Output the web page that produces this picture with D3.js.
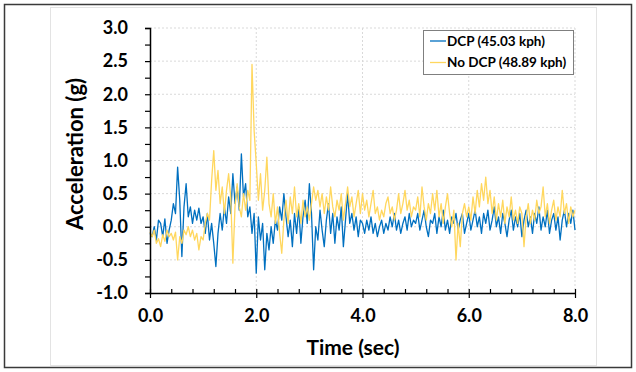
<!DOCTYPE html>
<html>
<head>
<meta charset="utf-8">
<script src="https://cdn.jsdelivr.net/npm/d3@7"></script>
<style>
  body { margin: 0; background: #fff; }
  text { font-family: Lato, "Open Sans", sans-serif; }
</style>
</head>
<body>
<div id="chart"></div>
<script>
// samples every 0.04 sec, from 0.0 to 8.0
const t0 = 0;
const dt = 0.04;

const seriesNames = ["DCP (45.03 kph)", "No DCP (48.89 kph)"];

const dcp = [
  -0.10, -0.15, 0.00, -0.20, 0.10, 0.05, -0.15, 0.12, -0.25, -0.05,
  0.10, 0.35, 0.20, 0.90, 0.40, -0.45, 0.30, 0.65, 0.15, 0.30,
  0.05, 0.25, 0.10, 0.28, 0.05,
  0.15, -0.10, 0.20, -0.20, 0.05, -0.25, -0.60, -0.10, 0.20, -0.05,
  0.30, 0.05, 0.45, 0.20, 0.80, 0.35, 0.60, 0.25, 1.10, 0.45,
  0.65, 0.15, 0.30, -0.10, 0.20,
  -0.70, 0.15, -0.20, 0.05, -0.65, -0.10, -0.35, 0.00, -0.25, 0.10,
  -0.05, 0.30, 0.10, 0.50, 0.15, -0.15, 0.10, -0.30, 0.20, -0.10,
  0.30, -0.25, 0.15, 0.40, 0.05,
  0.65, 0.20, -0.65, 0.00, -0.20, 0.25, -0.05, -0.30, 0.10, 0.35,
  -0.10, 0.20, -0.25, 0.15, -0.05, 0.30, -0.30, 0.10, 0.50, 0.05,
  0.20, -0.05, 0.15, -0.15, 0.10,
  0.05, -0.10, 0.10, -0.05, 0.15, -0.10, 0.05, -0.15, 0.00, 0.10,
  -0.10, 0.05, -0.05, 0.15, 0.00, 0.20, -0.05, 0.10, -0.10, 0.05,
  0.15, -0.05, 0.20, 0.00, 0.10,
  0.05, 0.20, -0.05, 0.10, 0.25, 0.00, -0.15, 0.10, 0.05, 0.20,
  -0.10, 0.15, 0.00, 0.25, -0.05, 0.10, -0.10, 0.15, 0.05, 0.20,
  -0.05, 0.10, 0.20, -0.10, 0.05,
  0.20, -0.05, 0.10, 0.25, 0.00, 0.15, -0.10, 0.20, 0.05, 0.25,
  -0.05, 0.10, 0.30, 0.00, 0.15, -0.10, 0.20, 0.05, -0.15, 0.10,
  0.25, -0.05, 0.15, 0.00, 0.20,
  -0.15, 0.10, 0.25, 0.00, 0.15, -0.10, 0.20, 0.05, 0.30, -0.05,
  0.15, 0.00, 0.25, -0.10, 0.10, 0.20, -0.05, 0.15, -0.20, 0.10,
  0.25, 0.00, 0.20, 0.05, 0.25, -0.05
];

const noDcp = [
  -0.08, -0.15, -0.05, -0.25, -0.18, -0.30, -0.12, -0.22, -0.05, -0.15,
  -0.10, -0.20, -0.08, -0.50, -0.15, -0.25, -0.05, -0.12, 0.00, -0.15,
  -0.05, -0.20, -0.10, -0.35, -0.15,
  -0.20, 0.05, 0.20, 0.10, 0.70, 1.15, 0.55, 0.85, 0.35, 0.60,
  0.20, 0.55, 0.80, 0.45, -0.55, 0.30, 0.65, 0.30, 0.15, 0.50,
  0.25, 0.55, 0.40, 2.45, 1.45,
  0.95, 0.40, 0.80, 0.25, 0.55, 1.05, 0.35, 0.15, 0.50, 0.05,
  0.30, -0.10, -0.40, 0.10, 0.40, 0.05, 0.45, 0.20, 0.60, 0.15,
  0.35, 0.05, 0.40, 0.15, 0.30,
  0.10, 0.35, 0.60, 0.40, 0.55, 0.30, 0.50, 0.20, 0.45, 0.25,
  0.60, 0.30, 0.15, 0.40, 0.25, 0.50, 0.10, 0.35, 0.60, 0.30,
  0.45, 0.15, 0.35, 0.55, 0.20,
  0.50, 0.25, 0.40, 0.15, 0.35, 0.55, 0.20, 0.30, 0.10, 0.25,
  0.15, 0.35, 0.45, 0.20, 0.30, 0.10, 0.25, 0.50, 0.20, 0.35,
  0.55, 0.25, 0.40, 0.15, 0.30,
  0.25, 0.45, 0.15, 0.60, 0.30, 0.10, 0.35, 0.20, 0.50, 0.25,
  0.55, 0.15, 0.35, 0.05, 0.30, 0.50, 0.20, 0.00, 0.25, -0.50,
  0.05, -0.30, 0.20, 0.35, 0.15,
  0.30, 0.10, 0.45, 0.20, 0.55, 0.30, 0.65, 0.40, 0.75, 0.35,
  0.55, 0.20, 0.45, 0.10, 0.35, 0.15, 0.40, 0.05, 0.30, 0.15,
  0.45, 0.10, 0.25, 0.05, 0.30,
  0.20, -0.30, 0.15, 0.35, 0.05, 0.25, 0.10, 0.40, 0.20, 0.30,
  0.60, 0.15, 0.35, 0.05, 0.25, 0.40, 0.10, 0.30, 0.15, 0.55,
  0.20, 0.35, 0.05, 0.30, 0.15, 0.25
];

const colors = ["#0070C0", "#FFD75E"];

const yTicks = [-1.0, -0.5, 0.0, 0.5, 1.0, 1.5, 2.0, 2.5, 3.0];
const xTicks = [0.0, 2.0, 4.0, 6.0, 8.0];

const W = 636, H = 372;
const margin = {top: 28, right: 61, bottom: 79, left: 150};
const width = W - margin.left - margin.right;
const height = H - margin.top - margin.bottom;

const svg = d3.select("#chart").append("svg")
  .attr("width", W)
  .attr("height", H);

// outer frame and faint chart area
svg.append("rect")
  .attr("x", 50.5).attr("y", 7.5)
  .attr("width", 546).attr("height", 358)
  .attr("fill", "none").attr("stroke", "#e3e3e3");
svg.append("rect")
  .attr("x", 4.5).attr("y", 4.5)
  .attr("width", 627).attr("height", 363)
  .attr("fill", "none").attr("stroke", "#3a3a3a").attr("stroke-width", 1.5);

const g = svg.append("g")
  .attr("transform", "translate(" + margin.left + "," + margin.top + ")");

let x = d3.scaleLinear().domain([0, 8]).range([0, width]);
let y = d3.scaleLinear().domain([-1, 3]).range([height, 0]);

// gridlines
g.append("g").selectAll("line").data(yTicks.filter(d => d > -1))
  .enter().append("line")
    .attr("x1", 0).attr("x2", width)
    .attr("y1", d => y(d)).attr("y2", d => y(d))
    .attr("stroke", "#d9d9d9").attr("stroke-dasharray", "2,2");
g.append("g").selectAll("line").data(xTicks.filter(d => d > 0))
  .enter().append("line")
    .attr("x1", d => x(d)).attr("x2", d => x(d))
    .attr("y1", 0).attr("y2", height)
    .attr("stroke", "#d9d9d9").attr("stroke-dasharray", "2,2");

// series
let line = d3.line()
  .x((d, i) => x(t0 + i * dt))
  .y(d => y(d));

[dcp, noDcp].forEach((s, k) => {
  g.append("path")
    .datum(s)
    .attr("fill", "none")
    .attr("stroke", colors[k])
    .attr("stroke-width", 1.3)
    .attr("stroke-linejoin", "round")
    .attr("d", line);
});

// y axis with minor ticks every 0.25
let yAxis = g.append("g")
  .call(d3.axisLeft(y).tickValues(d3.range(-1, 3.01, 0.25)).tickSize(5).tickFormat(""));
yAxis.select(".domain").attr("stroke-width", 1.5);
yAxis.selectAll(".tick line").attr("stroke-width", 1.2);

g.append("g").selectAll("text").data(yTicks)
  .enter().append("text")
    .attr("x", -22).attr("y", d => y(d))
    .attr("dy", "0.35em")
    .attr("text-anchor", "end")
    .style("font-size", "18px").style("font-weight", "bold")
    .text(d => d3.format(".1f")(d).replace("−", "-"));

// x axis: small ticks every 0.4 pointing up, labelled ones pointing down
let xAxis = g.append("g")
  .attr("transform", "translate(0," + height + ")")
  .call(d3.axisTop(x).tickValues(d3.range(0, 8.01, 0.4)).tickSize(4).tickFormat("").tickSizeOuter(0));
xAxis.select(".domain").attr("stroke-width", 1.5);
xAxis.selectAll(".tick line").attr("stroke-width", 1.2);

let xAxis2 = g.append("g")
  .attr("transform", "translate(0," + height + ")")
  .call(d3.axisBottom(x).tickValues(xTicks).tickSize(5).tickFormat(d3.format(".1f")).tickPadding(11));
xAxis2.select(".domain").remove();
xAxis2.selectAll(".tick line").attr("stroke-width", 1.2);
xAxis2.selectAll("text")
  .style("font-family", "Lato, sans-serif")
  .style("font-size", "18px").style("font-weight", "bold").attr("fill", "#000");

// axis titles
svg.append("text")
  .attr("x", 353).attr("y", 355)
  .attr("text-anchor", "middle")
  .style("font-size", "21px").style("font-weight", "bold")
  .text("Time (sec)");

svg.append("text")
  .attr("transform", "translate(83,154) rotate(-90)")
  .attr("text-anchor", "middle")
  .style("font-size", "22px").style("font-weight", "bold")
  .text("Acceleration (g)");

// legend
let legend = svg.append("g").attr("transform", "translate(423,30)");
legend.append("rect")
  .attr("x", 0.5).attr("y", 0.5)
  .attr("width", 150).attr("height", 44)
  .attr("fill", "#fff").attr("stroke", "#7f7f7f");
seriesNames.forEach((name, k) => {
  let row = legend.append("g").attr("transform", "translate(0," + (11 + k * 21.5) + ")");
  row.append("line")
    .attr("x1", 7).attr("x2", 23)
    .attr("stroke", colors[k]).attr("stroke-width", 1.3);
  row.append("text")
    .attr("x", 24).attr("dy", "0.35em")
    .style("font-size", "13.5px").style("font-weight", "bold")
    .text(name);
});
</script>
</body>
</html>
